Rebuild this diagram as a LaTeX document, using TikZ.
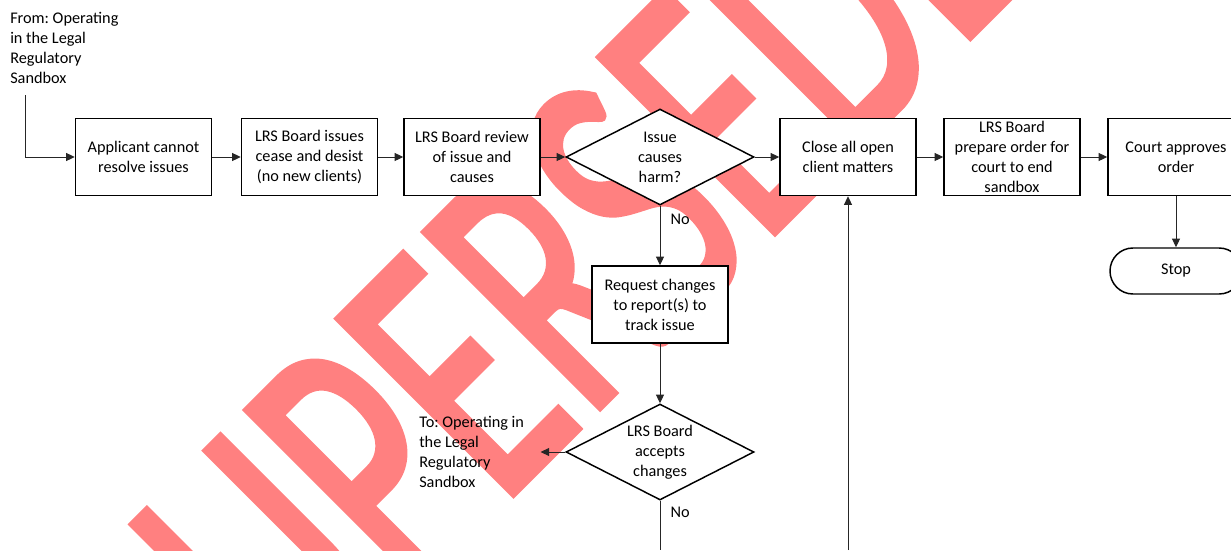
\documentclass[tikz,border=0pt]{standalone}
\usepackage{fontspec}
\setmainfont{Carlito}
\newfontfamily\wmfont[FakeBold=2]{Carlito}
\usetikzlibrary{shapes.geometric,arrows.meta}
\definecolor{wmred}{RGB}{255,128,128}
\frenchspacing
\begin{document}
\begin{tikzpicture}[x=0.75pt,y=-0.75pt,
  every node/.style={font=\fontsize{12.2}{15}\selectfont},
  procbox/.style={draw=black,line width=1.1pt,fill=white,minimum width=102pt,
    minimum height=57.75pt,inner xsep=2pt,inner ysep=0pt,align=center},
  decision/.style={diamond,draw=black,line width=1.1pt,fill=white,aspect=1.96,
    minimum width=141pt,minimum height=72pt,inner sep=0pt,align=center},
  terminal/.style={draw=black,line width=1.1pt,fill=white,rounded corners=17.2pt,
    minimum width=99pt,minimum height=34.5pt,align=center},
  flow/.style={draw=black!85,line width=0.75pt,-{Triangle[length=6.5pt,width=6pt]}},
  plain/.style={draw=black!85,line width=0.75pt},
  note/.style={align=flush left,inner sep=0pt},
  branch/.style={inner sep=0pt,anchor=west,xshift=7.5pt}
]
\useasboundingbox (0,0) rectangle (1231,550);
\clip (0,0) rectangle (1231,550);

% watermark behind the chart
\node[rotate=45,anchor=base,inner sep=0pt,text=wmred,
      font=\wmfont\fontsize{289}{289}\selectfont] (wm) at (683,324)
      {\scalebox{0.65}[1]{SUPERSEDED}};

% top row
\node[note,anchor=west] (from) at (10,47.5)
  {From: Operating\\in the Legal\\Regulatory\\Sandbox};
\coordinate (fromend) at (25,95);
\node[procbox] (box1) at (143.5,157) {Applicant cannot\\resolve issues};
\node[procbox] (box2) at (309.5,157) {LRS Board issues\\cease and desist\\(no new clients)};
\node[procbox] (box3) at (472,157) {LRS Board review\\of issue and\\causes};
\node[decision] (d1) at (660,157) {Issue\\causes\\harm?};
\node[procbox] (close) at (848,157) {Close all open\\client matters};
\node[procbox] (prep) at (1012,157) {LRS Board\\prepare order for\\court to end\\sandbox};
\node[procbox] (court) at (1176,157) {Court approves\\order};
\node[terminal] (stop) at (1176,271) {Stop};

% lower branch
\node[procbox] (req) at (660,304.5) {Request changes\\to report(s) to\\track issue};
\node[decision] (d2) at (660,452) {LRS Board\\accepts\\changes};
\node[note,anchor=west,text width=90.75pt] (to) at (419,452)
  {To: Operating in\\the Legal\\Regulatory\\Sandbox};
\coordinate (d2end) at (660,550);
\coordinate (closein) at (848,550);

% connectors
\draw[flow] (fromend) |- (box1);
\draw[flow] (box1) -- (box2);
\draw[flow] (box2) -- (box3);
\draw[flow] (box3) -- (d1);
\draw[flow] (d1) -- (close);
\draw[flow] (close) -- (prep);
\draw[flow] (prep) -- (court);
\draw[flow] (court) -- (stop);
\draw[flow] (d1) -- node[branch,pos=0.23] {No} (req);
\draw[flow] (req) -- (d2);
\draw[flow] (d2) -- (to);
\draw[plain] (d2) -- node[branch,pos=0.24] {No} (d2end);
\draw[flow] (closein) -- (close);
\end{tikzpicture}
\end{document}
